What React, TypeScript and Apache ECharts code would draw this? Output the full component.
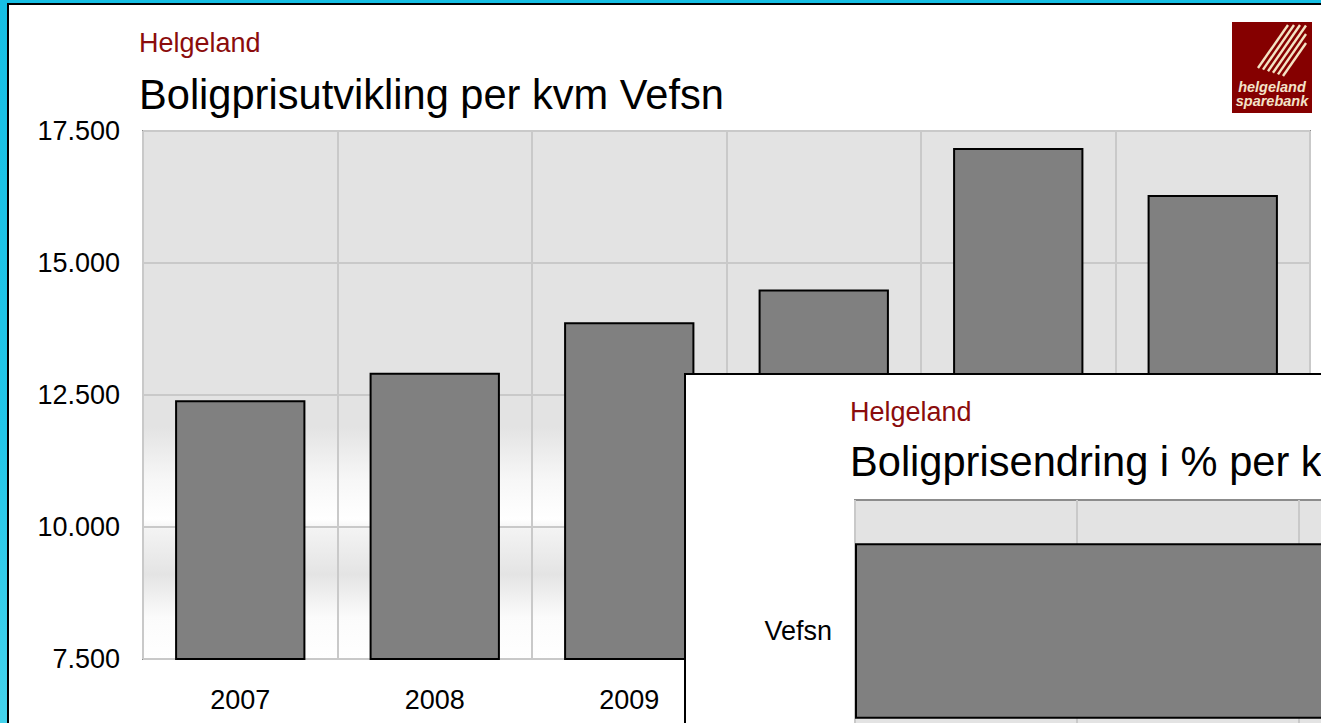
import React, { useEffect, useRef } from "react";
import * as echarts from "echarts";

const FONT = "'Liberation Sans', Arial, Helvetica, sans-serif";

// Main chart data
const years: string[] = ["2007", "2008", "2009", "2010", "2011", "2012"];
const prices: number[] = [12400, 12920, 13880, 14500, 17180, 16290];
const yMin = 7500;
const yMax = 17500;
const yStep = 2500;

// Inset chart data
const insetCategories: string[] = ["Vefsn"];
const insetValues: number[] = [31.3];
const insetMin = 0;
const insetMax = 35;
const insetStep = 5;

const fmtThousands = (v: number) =>
  String(Math.round(v)).replace(/\B(?=(\d{3})+(?!\d))/g, ".");

const plotBg = {
  type: "linear",
  x: 0,
  y: 0,
  x2: 0,
  y2: 1,
  colorStops: [
    { offset: 0, color: "#e3e3e3" },
    { offset: 0.56, color: "#e3e3e3" },
    { offset: 0.66, color: "#f7f7f7" },
    { offset: 0.735, color: "#ffffff" },
    { offset: 0.755, color: "#f3f3f3" },
    { offset: 0.84, color: "#e4e4e4" },
    { offset: 0.92, color: "#fbfbfb" },
    { offset: 1, color: "#ffffff" },
  ],
};

function MainChart() {
  const ref = useRef<HTMLDivElement>(null);
  useEffect(() => {
    if (!ref.current) return;
    const chart = echarts.init(ref.current, undefined, { renderer: "svg" });
    // logo stripes (local coords in 80x91 box)
    const stripes = [
      [26, 46, 56, 3],
      [31, 47.6, 62, 3],
      [36, 49.2, 68, 3],
      [41, 50.8, 74, 3.5],
      [46, 52.4, 74, 12],
      [51, 54, 74, 21],
    ];
    chart.setOption({
      animation: false,
      textStyle: { fontFamily: FONT },
      grid: {
        left: 143,
        top: 131,
        width: 1167,
        height: 528,
        show: true,
        backgroundColor: plotBg,
        borderColor: "#8c8c8c",
        borderWidth: 2,
      },
      xAxis: {
        type: "category",
        data: years,
        axisLine: { show: false },
        axisTick: { show: false },
        splitLine: { show: true, lineStyle: { color: "#c9c9c9", width: 2 } },
        axisLabel: { fontSize: 27, color: "#000", margin: 27, fontFamily: FONT },
      },
      yAxis: {
        type: "value",
        min: yMin,
        max: yMax,
        interval: yStep,
        axisLine: { show: false },
        axisTick: { show: false },
        splitLine: { show: true, lineStyle: { color: "#c9c9c9", width: 2 } },
        axisLabel: {
          fontSize: 27,
          color: "#000",
          margin: 23,
          fontFamily: FONT,
          formatter: (v: number) => fmtThousands(v),
        },
      },
      series: [
        {
          type: "bar",
          data: prices,
          barCategoryGap: "33%",
          itemStyle: { color: "#808080", borderColor: "#000", borderWidth: 2 },
        },
      ],
      graphic: [
        {
          type: "text",
          x: 139,
          y: 43,
          style: {
            text: "Helgeland",
            fill: "#8b0c0c",
            fontSize: 27,
            fontFamily: FONT,
            verticalAlign: "middle",
          },
        },
        {
          type: "text",
          x: 139,
          y: 94,
          style: {
            text: "Boligprisutvikling per kvm Vefsn",
            fill: "#000",
            fontSize: 41.6,
            fontFamily: FONT,
            verticalAlign: "middle",
          },
        },
        {
          type: "group",
          x: 1232,
          y: 22,
          children: [
            { type: "rect", shape: { x: 0, y: 0, width: 80, height: 91 }, style: { fill: "#850000" } },
            ...stripes.map((s) => ({
              type: "line",
              shape: { x1: s[0], y1: s[1], x2: s[2], y2: s[3] },
              style: { stroke: "#f4e3c4", lineWidth: 2.4 },
            })),
            {
              type: "text",
              x: 40,
              y: 65,
              style: {
                text: "helgeland",
                fill: "#f4e3c9",
                fontSize: 14.5,
                fontStyle: "italic",
                fontWeight: "bold",
                fontFamily: FONT,
                align: "center",
                verticalAlign: "middle",
              },
            },
            {
              type: "text",
              x: 40,
              y: 79,
              style: {
                text: "sparebank",
                fill: "#f4e3c9",
                fontSize: 14.5,
                fontStyle: "italic",
                fontWeight: "bold",
                fontFamily: FONT,
                align: "center",
                verticalAlign: "middle",
              },
            },
          ],
        },
      ],
    });
    return () => chart.dispose();
  }, []);
  return (
    <div
      ref={ref}
      style={{ position: "absolute", left: 0, top: 0, width: 1321, height: 723 }}
    />
  );
}

function InsetChart() {
  const ref = useRef<HTMLDivElement>(null);
  useEffect(() => {
    if (!ref.current) return;
    const chart = echarts.init(ref.current, undefined, { renderer: "svg" });
    chart.setOption({
      animation: false,
      textStyle: { fontFamily: FONT },
      grid: {
        left: 169,
        top: 125,
        width: 1554,
        height: 262,
        show: true,
        backgroundColor: "#e3e3e3",
        borderColor: "#8c8c8c",
        borderWidth: 2,
      },
      xAxis: {
        type: "value",
        min: insetMin,
        max: insetMax,
        interval: insetStep,
        axisLine: { show: false },
        axisTick: { show: false },
        axisLabel: { show: false },
        splitLine: { show: true, lineStyle: { color: "#c9c9c9", width: 2 } },
      },
      yAxis: {
        type: "category",
        data: insetCategories,
        axisLine: { show: false },
        axisTick: { show: false },
        splitLine: { show: false },
        axisLabel: { fontSize: 27, color: "#000", margin: 23, fontFamily: FONT },
      },
      series: [
        {
          type: "bar",
          data: insetValues,
          barCategoryGap: "33%",
          itemStyle: { color: "#808080", borderColor: "#000", borderWidth: 2 },
        },
      ],
      graphic: [
        {
          type: "text",
          x: 164,
          y: 37,
          style: {
            text: "Helgeland",
            fill: "#8b0c0c",
            fontSize: 27,
            fontFamily: FONT,
            verticalAlign: "middle",
          },
        },
        {
          type: "text",
          x: 164,
          y: 86,
          style: {
            text: "Boligprisendring i % per kvm Vefsn",
            fill: "#000",
            fontSize: 41.6,
            fontFamily: FONT,
            verticalAlign: "middle",
          },
        },
      ],
    });
    return () => chart.dispose();
  }, []);
  return (
    <div
      ref={ref}
      style={{ position: "absolute", left: 0, top: 0, width: 1800, height: 600 }}
    />
  );
}

export default function App() {
  return (
    <div
      style={{
        position: "fixed",
        left: 0,
        top: 0,
        width: 1321,
        height: 723,
        overflow: "hidden",
        background: "linear-gradient(180deg, #16bfe4 0%, #22c6e8 60%, #44d3ec 100%)",
      }}
    >
      <div
        style={{
          position: "absolute",
          left: 7,
          top: 3,
          width: 1400,
          height: 800,
          border: "2px solid #000",
          background: "#fff",
        }}
      />
      <MainChart />
      <div
        style={{
          position: "absolute",
          left: 684,
          top: 373,
          width: 1000,
          height: 600,
          borderLeft: "2px solid #000",
          borderTop: "2px solid #000",
          background: "#fff",
          overflow: "hidden",
        }}
      >
        <InsetChart />
      </div>
    </div>
  );
}
